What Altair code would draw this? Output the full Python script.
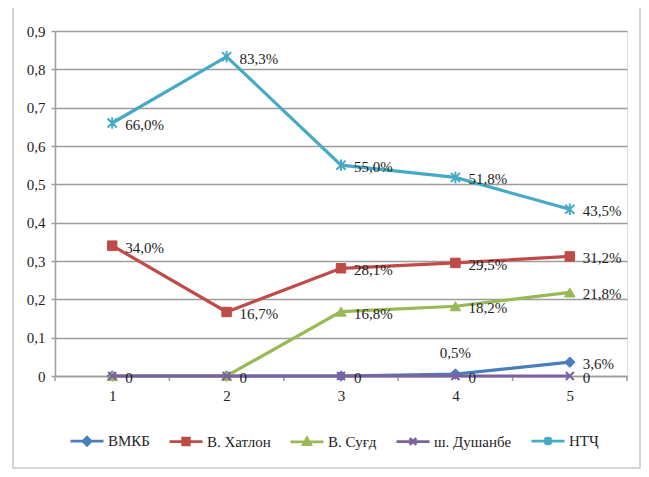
import altair as alt
import pandas as pd

categories = [1, 2, 3, 4, 5]
series = ["ВМКБ", "В. Хатлон", "В. Суғд", "ш. Душанбе", "НТҶ"]
vmkb = [0.0, 0.0, 0.0, 0.005, 0.036]
khatlon = [0.340, 0.167, 0.281, 0.295, 0.312]
sughd = [0.0, 0.0, 0.168, 0.182, 0.218]
dushanbe = [0.0, 0.0, 0.0, 0.0, 0.0]
ntj = [0.660, 0.833, 0.550, 0.518, 0.435]
values = [vmkb, khatlon, sughd, dushanbe, ntj]
y_ticks = [0, 0.1, 0.2, 0.3, 0.4, 0.5, 0.6, 0.7, 0.8, 0.9]

colors = ["#4A7EBB", "#BE4B48", "#98B954", "#7D60A0", "#46AAC5"]
marker_shapes = [
    "diamond",
    "square",
    "triangle-up",
    "M-0.8,-0.8L0.8,0.8M-0.8,0.8L0.8,-0.8",
    "M-0.8,-0.8L0.8,0.8M-0.8,0.8L0.8,-0.8M0,-1L0,1",
]
marker_filled = [True, True, True, False, False]
marker_sizes = [110, 90, 110, 100, 130]
legend_shapes = [
    "M-1,0L1,0M0,-0.24L0.24,0L0,0.24L-0.24,0ZM0,-0.09L0.09,0L0,0.09L-0.09,0Z",
    "M-1,0L1,0M-0.2,-0.2L0.2,-0.2L0.2,0.2L-0.2,0.2ZM-0.07,-0.07L0.07,-0.07L0.07,0.07L-0.07,0.07Z",
    "M-1,0L1,0M0,-0.24L0.22,0.16L-0.22,0.16ZM0,-0.08L0.08,0.06L-0.08,0.06Z",
    "M-1,0L1,0M-0.2,-0.2L0.2,0.2M-0.2,0.2L0.2,-0.2",
    "M-1,0L1,0M-0.2,-0.2L0.2,0.2M-0.2,0.2L0.2,-0.2M0,-0.26L0,0.26",
]

FONT = "Liberation Serif"
TXT = "#1e1e1e"
GRID = "#9c9c9c"


def fmt(s, v):
    if v == 0:
        return "0" if s == "ш. Душанбе" else ""
    return f"{v * 100:.1f}%".replace(".", ",")


rows = []
for s, vals in zip(series, values):
    for c, v in zip(categories, vals):
        rows.append({"series": s, "x": c, "v": v, "label": fmt(s, v),
                     "above": (s == "ВМКБ" and c == 4)})
df = pd.DataFrame(rows)

x_enc = alt.X("x:Q",
              scale=alt.Scale(domain=[categories[0] - 0.5, categories[-1] + 0.5], nice=False, zero=False),
              axis=alt.Axis(values=categories, ticks=False, grid=False, domain=True,
                            domainColor=GRID, domainWidth=1.5, format="d", title=None,
                            labelFont=FONT, labelFontSize=15, labelColor=TXT, labelPadding=12))
y_enc = alt.Y("v:Q",
              scale=alt.Scale(domain=[0, 0.9], nice=False),
              axis=alt.Axis(values=y_ticks, grid=True, gridColor=GRID, gridWidth=1.5,
                            domain=True, domainColor=GRID, domainWidth=1.5,
                            tickSize=4, tickColor=GRID, tickWidth=1.5, title=None,
                            labelExpr="datum.value == 0 ? '0' : replace(format(datum.value, '.1f'), '.', ',')",
                            labelFont=FONT, labelFontSize=15, labelColor=TXT, labelPadding=6))

layers = []

frame = alt.Chart(pd.DataFrame({"a": [0]})).mark_rect(
    filled=False, stroke="#c8c8c8", strokeWidth=1.5
).encode(x=alt.value(-42), x2=alt.value(585), y=alt.value(-26), y2=alt.value(437))
layers.append(frame)

bounds = pd.DataFrame({"x": [c - 0.5 for c in categories] + [categories[-1] + 0.5], "v": 0.0})
ticks = alt.Chart(bounds).mark_rule(stroke=GRID, strokeWidth=1.5).encode(
    x=x_enc, y=alt.value(345), y2=alt.value(350))
layers.append(ticks)

for i, s in enumerate(series):
    sdf = df[df["series"] == s]
    line = alt.Chart(sdf).mark_line(color=colors[i], strokeWidth=3.2).encode(x=x_enc, y=y_enc)
    if marker_filled[i]:
        pt = alt.Chart(sdf).mark_point(shape=marker_shapes[i], filled=True, fill=colors[i],
                                       stroke=colors[i], strokeWidth=1, size=marker_sizes[i], opacity=1)
    else:
        pt = alt.Chart(sdf).mark_point(shape=marker_shapes[i], filled=False, stroke=colors[i],
                                       strokeWidth=2, size=marker_sizes[i], opacity=1)
    layers.append(line)
    layers.append(pt.encode(x=x_enc, y=y_enc))

lab = df[(df["label"] != "") & (~df["above"])]
lab_above = df[(df["label"] != "") & (df["above"])]
layers.append(alt.Chart(lab).mark_text(align="left", baseline="middle", dx=13, dy=2,
                                       font=FONT, fontSize=15, color=TXT).encode(
    x=x_enc, y=y_enc, text="label:N"))
layers.append(alt.Chart(lab_above).mark_text(align="center", baseline="middle", dy=-21,
                                             font=FONT, fontSize=15, color=TXT).encode(
    x=x_enc, y=y_enc, text="label:N"))

leg = alt.Legend(orient="none", legendX=14, legendY=392, direction="horizontal", columns=5,
                 title=None, labelFont=FONT, labelFontSize=15, labelColor=TXT,
                 symbolSize=1089, symbolStrokeWidth=2.8, symbolOpacity=1,
                 labelOffset=3, columnPadding=13)
legend_layer = alt.Chart(pd.DataFrame({"series": series})).transform_filter("false").mark_point(
    filled=False, strokeWidth=2.8, opacity=1
).encode(
    color=alt.Color("series:N", scale=alt.Scale(domain=series, range=colors), legend=leg, sort=series),
    shape=alt.Shape("series:N", scale=alt.Scale(domain=series, range=legend_shapes), legend=leg, sort=series),
)
layers.append(legend_layer)

chart = alt.layer(*layers).properties(
    width=572, height=345,
    padding={"left": 47, "top": 23, "right": 14, "bottom": 93},
    autosize=alt.AutoSizeParams(type="none"),
).configure_view(stroke=None).configure(background="white")

chart.save("out.html", embed_options={"renderer": "svg", "actions": False})
